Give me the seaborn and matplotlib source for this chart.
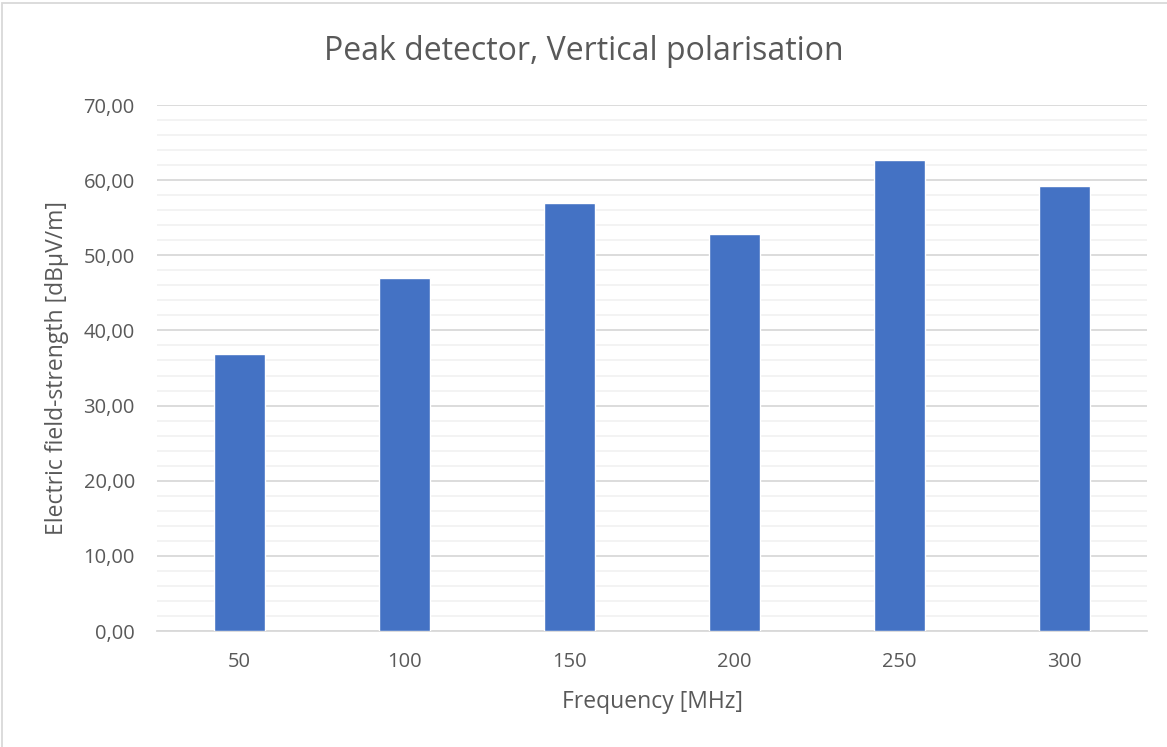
import matplotlib
matplotlib.use("Agg")
import matplotlib.pyplot as plt
import matplotlib.ticker as mticker
from matplotlib.patches import Rectangle
import seaborn as sns
import pandas as pd

frequencies = ["50", "100", "150", "200", "250", "300"]
field_strength = [36.9, 47.0, 56.9, 52.8, 62.7, 59.2]

title = "Peak detector, Vertical polarisation"
xlabel = "Frequency [MHz]"
ylabel = "Electric field-strength [dBµV/m]"

sns.set_theme(style="white")
plt.rcParams['font.family'] = ['Open Sans', 'DejaVu Sans']
text_color = "#595959"

df = pd.DataFrame({"freq": frequencies, "value": field_strength})

W, H = 1167, 747
fig = plt.figure(figsize=(W / 100, H / 100), dpi=100)
ax = fig.add_axes([157 / W, 1 - 631 / H, 990 / W, 526 / H])

sns.barplot(data=df, x="freq", y="value", order=frequencies, color="#4472C4",
            saturation=1, width=0.315, ax=ax, zorder=3)
ax.set_xlim(-0.5, len(frequencies) - 0.5)
ax.set_ylim(0, 70)
ax.yaxis.set_major_locator(mticker.MultipleLocator(10))
ax.yaxis.set_minor_locator(mticker.MultipleLocator(2))
ax.yaxis.set_major_formatter(mticker.FuncFormatter(lambda v, p: f"{v:.2f}".replace(".", ",")))
ax.grid(axis="y", which="major", color="#D9D9D9", linewidth=1.3, zorder=0)
ax.grid(axis="y", which="minor", color="#F2F2F2", linewidth=1.3, zorder=0)
ax.grid(axis="x", visible=False)
ax.set_axisbelow(True)
for s in ["top", "right", "left"]:
    ax.spines[s].set_visible(False)
ax.spines["bottom"].set_color("#D9D9D9")
ax.spines["bottom"].set_linewidth(1.3)
ax.tick_params(axis="both", which="both", length=0, labelsize=14.5, colors=text_color)
ax.tick_params(axis="x", pad=15)
ax.tick_params(axis="y", pad=16)
ax.set_xlabel(xlabel, fontsize=16.5, color=text_color, va="center")
ax.set_ylabel(ylabel, fontsize=16.5, color=text_color, va="center")
ax.xaxis.set_label_coords(0.5, (631 - 702) / 526)
ax.yaxis.set_label_coords((57 - 157) / 990, 0.5)
fig.text(0.5, 1 - 52 / H, title, ha="center", va="center", fontsize=23, color=text_color)

fig.patches.append(Rectangle((2 / W, -0.01), 1.1, 1 - 3 / H + 0.01, transform=fig.transFigure,
                             fill=False, edgecolor="#D9D9D9", linewidth=1.3))

fig.savefig("out.png", dpi=100, facecolor="white")
